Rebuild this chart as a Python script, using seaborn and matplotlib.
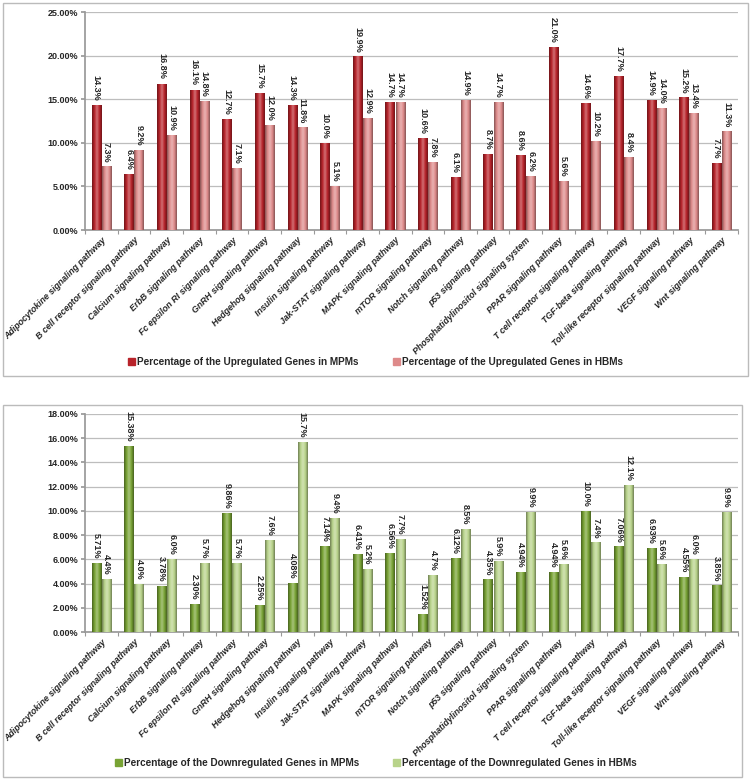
import numpy as np
import pandas as pd
import matplotlib
matplotlib.use("Agg")
import matplotlib.pyplot as plt
import seaborn as sns
from matplotlib.colors import LinearSegmentedColormap, to_rgb
from matplotlib.patches import Rectangle

pathways = [
    "Adipocytokine signaling pathway", "B cell receptor signaling pathway",
    "Calcium signaling pathway", "ErbB signaling pathway",
    "Fc epsilon RI signaling pathway", "GnRH signaling pathway",
    "Hedgehog signaling pathway", "Insulin signaling pathway",
    "Jak-STAT signaling pathway", "MAPK signaling pathway",
    "mTOR signaling pathway", "Notch signaling pathway",
    "p53 signaling pathway", "Phosphatidylinositol signaling system",
    "PPAR signaling pathway", "T cell receptor signaling pathway",
    "TGF-beta signaling pathway", "Toll-like receptor signaling pathway",
    "VEGF signaling pathway", "Wnt signaling pathway",
]

up_mpm = [14.3, 6.4, 16.8, 16.1, 12.7, 15.7, 14.3, 10.0, 19.9, 14.7,
          10.6, 6.1, 8.7, 8.6, 21.0, 14.6, 17.7, 14.9, 15.2, 7.7]
up_hbm = [7.3, 9.2, 10.9, 14.8, 7.1, 12.0, 11.8, 5.1, 12.9, 14.7,
          7.8, 14.9, 14.7, 6.2, 5.6, 10.2, 8.4, 14.0, 13.4, 11.3]

down_mpm = [5.71, 15.38, 3.78, 2.30, 9.86, 2.25, 4.08, 7.14, 6.41, 6.56,
            1.52, 6.12, 4.35, 4.94, 4.94, 10.0, 7.06, 6.93, 4.55, 3.85]
down_mpm_labels = ["5.71%", "15.38%", "3.78%", "2.30%", "9.86%", "2.25%",
                   "4.08%", "7.14%", "6.41%", "6.56%", "1.52%", "6.12%",
                   "4.35%", "4.94%", "4.94%", "10.0%", "7.06%", "6.93%",
                   "4.55%", "3.85%"]
down_hbm = [4.4, 4.0, 6.0, 5.7, 5.7, 7.6, 15.7, 9.4, 5.2, 7.7,
            4.7, 8.5, 5.9, 9.9, 5.6, 7.4, 12.1, 5.6, 6.0, 9.9]

up_series = ["Percentage of the Upregulated Genes in MPMs",
             "Percentage of the Upregulated Genes in HBMs"]
down_series = ["Percentage of the Downregulated Genes in MPMs",
               "Percentage of the Downregulated Genes in HBMs"]

up_colors = ["#B8232A", "#DE8A8A"]
down_colors = ["#78A334", "#B8D38A"]


def shade(ax, colors):
    """Fake the cylinder look with a clipped horizontal gradient."""
    ylo, yhi = ax.get_ylim()
    for patch, base in zip(ax.patches, colors):
        x0, y0 = patch.get_x(), patch.get_y()
        w, h = patch.get_width(), patch.get_height()
        if h <= 0:
            continue
        r, g, b = to_rgb(base)
        dark = (r * 0.6, g * 0.6, b * 0.6)
        light = tuple(min(1, c + (1 - c) * 0.35) for c in (r, g, b))
        cmap = LinearSegmentedColormap.from_list(
            "cyl", [dark, (r, g, b), light, (r, g, b), dark])
        grad = np.linspace(0, 1, 64).reshape(1, -1)
        im = ax.imshow(grad, cmap=cmap, aspect="auto",
                       extent=(x0, x0 + w, y0, y0 + h), zorder=3,
                       interpolation="bilinear")
        im.set_clip_path(patch)
    ax.set_ylim(ylo, yhi)


def draw(ax, mpm, hbm, series, colors, ymax, step, mpm_labels, hbm_labels, leg_y, fig):
    df = pd.DataFrame({
        "pathway": pathways * 2,
        "value": mpm + hbm,
        "series": [series[0]] * len(pathways) + [series[1]] * len(pathways),
    })
    sns.barplot(data=df, x="pathway", y="value", hue="series", palette=colors,
                width=0.62, gap=0.08, ax=ax, zorder=3, linewidth=0,
                legend=False)
    ax.set_xlim(-0.5, len(pathways) - 0.5)
    ax.set_ylim(0, ymax)
    ticks = np.arange(0, ymax + 0.01, step)
    ax.set_yticks(ticks)
    ax.set_yticklabels([f"{t:.2f}%" for t in ticks], fontsize=6.5, fontweight="bold")
    ax.yaxis.grid(True, color="#BDBDBD", linewidth=0.9, zorder=0)
    ax.xaxis.grid(False)
    ax.set_xlabel("")
    ax.set_ylabel("")
    ax.set_xticks(range(len(pathways)))
    ax.set_xticklabels(pathways, rotation=45, ha="right", rotation_mode="anchor",
                       fontsize=6.4, fontweight="bold", fontstyle="italic")
    # small separators between categories
    ax.set_xticks(np.arange(-0.5, len(pathways)), minor=True)
    ax.tick_params(axis="x", which="major", length=0, pad=4)
    ax.tick_params(axis="x", which="minor", length=3, color="#999999",
                   bottom=True, width=0.8)
    ax.tick_params(axis="y", length=3, color="#999999", pad=2, left=True)
    for s in ["top", "right"]:
        ax.spines[s].set_visible(False)
    for s in ["left", "bottom"]:
        ax.spines[s].set_color("#999999")
    ax.set_facecolor("white")

    bar_colors = [colors[0]] * len(pathways) + [colors[1]] * len(pathways)
    shade(ax, bar_colors)
    ax.bar_label(ax.containers[0], labels=mpm_labels, rotation=-90, padding=3,
                 fontsize=6.5, fontweight="bold", zorder=5)
    ax.bar_label(ax.containers[1], labels=hbm_labels, rotation=-90, padding=3,
                 fontsize=6.5, fontweight="bold", zorder=5)

    handles = [Rectangle((0, 0), 1, 1, color=c) for c in colors]
    fig.legend(handles, series, loc="center", bbox_to_anchor=(0.5, leg_y),
               ncol=2, frameon=False, handlelength=0.7, handleheight=0.7,
               handletextpad=0.2, columnspacing=3.4,
               prop={"size": 7.2, "weight": "bold"})


sns.set_theme(style="white")
plt.rcParams["font.family"] = ["Liberation Sans", "DejaVu Sans"]

fig = plt.figure(figsize=(7.51, 7.81), dpi=100)
fig.patch.set_facecolor("white")

# panel frames
fig.add_artist(Rectangle((3 / 751, 1 - 376 / 781), 745 / 751, 373 / 781,
                         transform=fig.transFigure, fill=False,
                         edgecolor="#BBBBBB", linewidth=1.0))
fig.add_artist(Rectangle((3 / 751, 1 - 777 / 781), 739 / 751, 372 / 781,
                         transform=fig.transFigure, fill=False,
                         edgecolor="#BBBBBB", linewidth=1.0))

ax1 = fig.add_axes([85 / 751, 1 - 230 / 781, 653 / 751, 218 / 781])
draw(ax1, up_mpm, up_hbm, up_series, up_colors, 25, 5,
     [f"{v:.1f}%" for v in up_mpm], [f"{v:.1f}%" for v in up_hbm],
     1 - 362 / 781, fig)

ax2 = fig.add_axes([85 / 751, 1 - 632 / 781, 653 / 751, 218 / 781])
draw(ax2, down_mpm, down_hbm, down_series, down_colors, 18, 2,
     down_mpm_labels, [f"{v:.1f}%" for v in down_hbm],
     1 - 763 / 781, fig)

fig.savefig("out.png", dpi=100, facecolor="white")
